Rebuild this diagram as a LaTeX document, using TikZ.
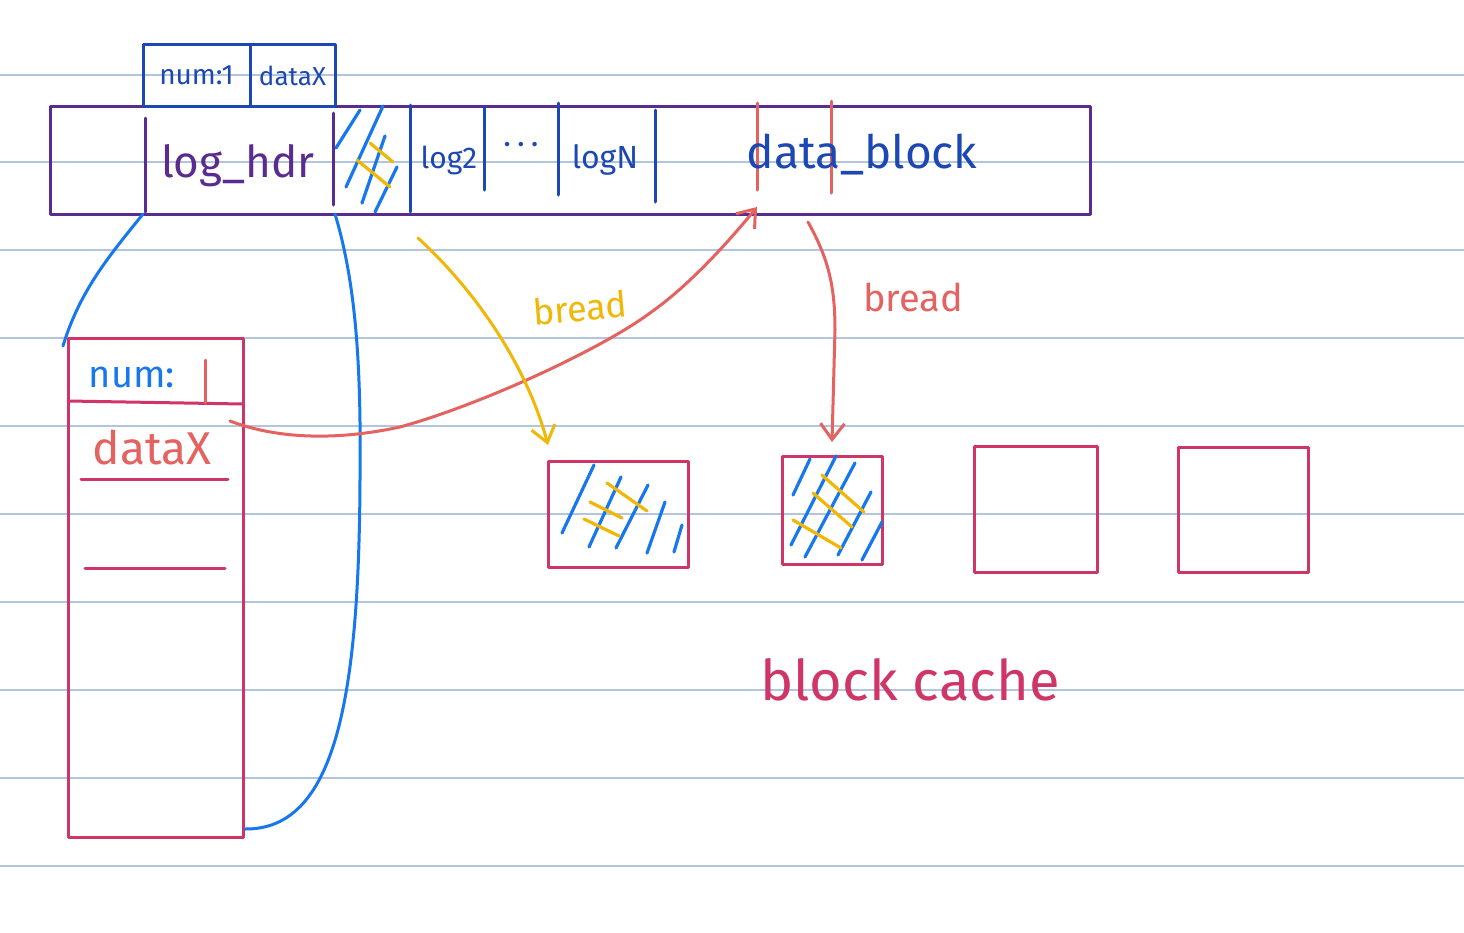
\documentclass[tikz,border=0pt]{standalone}
\usepackage{fontspec}
\setsansfont{Fira Sans}
\usetikzlibrary{arrows.meta,calc,positioning}
\definecolor{ruleline}{HTML}{B3C5DC}
\definecolor{penPurple}{HTML}{5B2C90}
\definecolor{penNavy}{HTML}{1D47B3}
\definecolor{penBlue}{HTML}{1677EE}
\definecolor{penCrimson}{HTML}{CF3567}
\definecolor{penSalmon}{HTML}{E4625F}
\definecolor{penYellow}{HTML}{F1B706}
\newcommand{\hw}[1]{\fontsize{#1}{#1}\selectfont}

\begin{document}
\begin{tikzpicture}[
    x=0.5pt, y=-0.5pt,
    font=\sffamily,
    rule/.style={draw=ruleline, line width=0.7pt},
    pen/.style={line width=1.5pt, line cap=round, line join=round},
    box/.style={pen, rectangle, inner sep=0pt, outer sep=0pt},
    cachebox/.style={box, draw=penCrimson},
    divider/.style={pen, draw=penNavy},
    hatch/.style={line width=1.6pt, line cap=round, draw=penBlue},
    cross/.style={line width=1.6pt, line cap=round, draw=penYellow},
    wire/.style={pen, draw=penBlue},
    barb/.style={pen, -{Straight Barb[length=8pt, width=12pt]}},
    hand/.style={inner sep=0pt}
]

% Paper: white page with ruled lines.
\fill[white] (0,0) rectangle (1464,933);
\useasboundingbox (0,0) rectangle (1464,933);
\foreach \y in {75,162,250,338,426,514,602,690,778,866}
    \draw[rule] (0,\y) -- (1464,\y);

% Log area and its header record.
\node[box, draw=penPurple, minimum width=520pt, minimum height=54pt] (log) at (570,160) {};
\node[box, draw=penNavy, text=penNavy, font=\sffamily\hw{14}, minimum width=53.5pt, minimum height=31pt] (numcell) at (196.5,75.5) {num:1};
\node[box, draw=penNavy, text=penNavy, font=\sffamily\hw{13}, minimum width=42.5pt, minimum height=31pt, right=0pt of numcell] (datacell) {dataX};

% Slots inside the log area.
\draw[pen, draw=penPurple] (145,118) -- (145,212);
\draw[pen, draw=penPurple] (333,113) -- (333,205);
\foreach \x/\ya/\yb in {410/105/212, 484/107/190, 558/103/195, 655/110/202}
    \draw[divider] (\x,\ya) -- (\x,\yb);
\foreach \xa/\ya/\xb/\yb in {360/110/336/148, 383/106/346/187, 385/136/362/203, 397/167/375/212}
    \draw[hatch] (\xa,\ya) -- (\xb,\yb);
\foreach \xa/\ya/\xb/\yb in {370/143/393/162, 357/160/390/187}
    \draw[cross] (\xa,\ya) -- (\xb,\yb);
\draw[pen, draw=penSalmon] (757,103) -- (757,190);
\draw[pen, draw=penSalmon] (831,101) -- (831,193);

\node[hand, text=penPurple, font=\sffamily\hw{22}] (hdrtext) at (238,166) {log\_hdr};
\node[hand, text=penNavy, font=\sffamily\hw{15}] (log2) at (449,160) {log2};
\node[hand, text=penNavy, font=\sffamily\hw{16}] (dots) at (521,148)
    {\textperiodcentered\hspace{3pt}\textperiodcentered\hspace{3pt}\textperiodcentered};
\node[hand, text=penNavy, font=\sffamily\hw{16}] (logN) at (605,160) {logN};
\node[hand, text=penNavy, font=\sffamily\hw{23}] (blocktext) at (862,155) {data\_block};

% In-memory log header.
\node[box, draw=penCrimson, minimum width=87.5pt, minimum height=249.5pt] (mem) at (155.5,587.5) {};
\draw[pen, draw=penCrimson] (68,401) -- (243,404);
\draw[pen, draw=penSalmon] (205,360) -- (205,403);
\draw[pen, draw=penCrimson] (81,479) -- (228,479);
\draw[pen, draw=penCrimson] (85,568) -- (225,568);
\node[hand, text=penBlue, font=\sffamily\hw{19}] (numtext) at (132,377) {num:};
\node[hand, text=penSalmon, font=\sffamily\hw{23}] (dataXtext) at (152,448) {dataX};

% Header on disk maps to the header in memory.
\draw[wire] (numcell.west |- log.south) .. controls (110,255) and (80,290) .. ($(mem.north west)+(-5,8)$);
\draw[wire] (datacell.east |- log.south) .. controls (358,290) and (361,380) .. (360,480)
    .. controls (359,700) and (335,830) .. ($(mem.south east)+(2,-8)$);

% Block cache.
\node[cachebox, minimum width=70pt, minimum height=53pt] (cacheA) at (618,514) {};
\node[cachebox, minimum width=50pt, minimum height=54pt] (cacheB) at (832,510) {};
\node[cachebox, minimum width=61.5pt, minimum height=63pt] (cacheC) at (1036,509) {};
\node[cachebox, minimum width=65pt, minimum height=62.5pt] (cacheD) at (1243,510) {};
\foreach \xa/\ya/\xb/\yb in {594/465/562/533, 621/477/589/547, 648/485/616/548, 665/502/647/553, 682/525/674/552,
                             810/459/793/495, 836/456/791/545, 855/463/805/557, 871/492/838/555, 882/522/862/560}
    \draw[hatch] (\xa,\ya) -- (\xb,\yb);
\foreach \xa/\ya/\xb/\yb in {607/483/647/511, 590/502/622/518, 584/519/619/536,
                             822/475/864/512, 813/493/852/527, 793/520/841/548}
    \draw[cross] (\xa,\ya) -- (\xb,\yb);
\node[hand, text=penCrimson, font=\sffamily\hw{28}] (cachetext) at (910,680) {block cache};

% Reads into the cache.
\coordinate (slot) at (230,421);
\coordinate (blockfoot) at (757,207);
\coordinate (hatchfoot) at (418,238);
\coordinate (blockfootR) at (808,222);

\draw[barb, draw=penSalmon] (slot) .. controls (280,440) and (340,440) .. (400,427)
    .. controls (480,405) and (600,350) .. (650,313) .. controls (690,285) and (730,240) .. (blockfoot);
\draw[barb, draw=penYellow] (hatchfoot) .. controls (480,295) and (528,370) .. ($(cacheA.north west)+(0,-16)$);
\draw[barb, draw=penSalmon] (blockfootR) .. controls (828,258) and (835,285) .. (835,330) -- ($(cacheB.north)+(0,-14)$);

\node[hand, text=penYellow, font=\sffamily\hw{18}, rotate=5] (yread) at (580,308) {bread};
\node[hand, text=penSalmon, font=\sffamily\hw{19}] (rread) at (913,297) {bread};

\end{tikzpicture}
\end{document}
